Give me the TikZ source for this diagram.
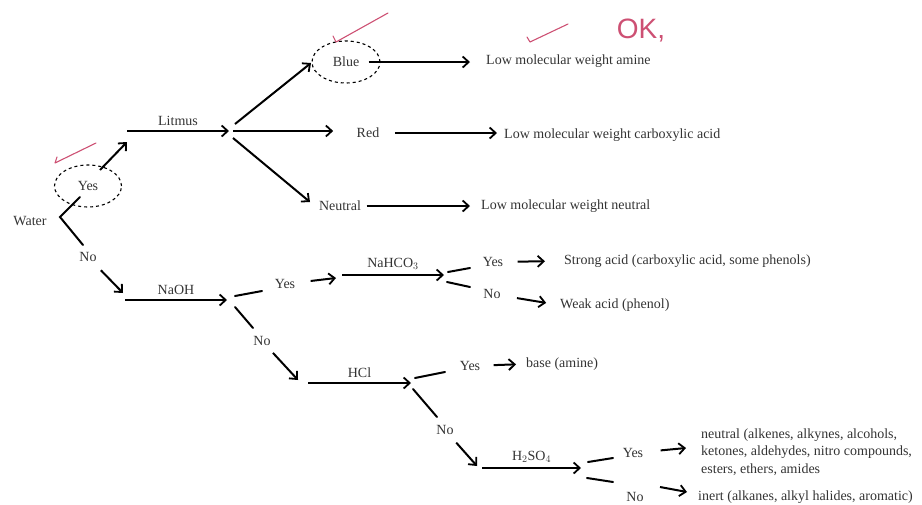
\documentclass[tikz,border=0pt]{standalone}
\usepackage{fontspec}
\setmainfont{Liberation Serif}
\newfontfamily\handfont{Liberation Sans}
\usetikzlibrary{arrows.meta,shapes.geometric}

\definecolor{inkred}{RGB}{205,80,115}

\tikzset{
  arr/.style={line width=2pt,-{Straight Barb[length=6pt,width=11pt,line width=1.8pt]}},
  fork/.style={line width=2pt,line cap=round},
  circ/.style={ellipse,draw,dashed,line width=1.1pt,inner sep=0pt},
  res/.style={anchor=west,inner sep=1pt},
  tick/.style={draw=inkred,line width=1.1pt,line cap=round,line join=round}
}

\begin{document}
\begin{tikzpicture}[x=1pt,y=-1pt,font=\fontsize{14}{17.5}\selectfont,text=black!80]
  \useasboundingbox (0,0) rectangle (922,504);

  % water test
  \node (water) at (30,221) {Water};
  \node[circ,minimum width=67pt,minimum height=42pt] (yes1) at (88,186) {Yes};
  \node (no1) at (88,257) {No};
  \coordinate (w0) at (80,197);
  \coordinate (w1) at (60,217);
  \coordinate (w2) at (83,245);
  \draw[fork] (w0) -- (w1) -- (w2);
  \coordinate (y1a) at (100,170);
  \coordinate (y1b) at (127,142);
  \draw[arr] (y1a) -- (y1b);
  \coordinate (n1b) at (123,293);
  \draw[arr,shorten <=7pt] (no1) -- (n1b);

  % litmus branch
  \coordinate (lita) at (127,131);
  \coordinate (lit) at (229,131);
  \draw[arr] (lita) -- (lit) node[midway,above=1pt] {Litmus};
  \node[circ,minimum width=68pt,minimum height=42pt] (blue) at (346,62) {Blue};
  \node (red) at (368,133) {Red};
  \node (neutral) at (340,206) {Neutral};
  \node[res] (amine) at (485,61) {Low molecular weight amine};
  \node[res] (carbox) at (503,135) {Low molecular weight carboxylic acid};
  \node[res] (neutres) at (480,206) {Low molecular weight neutral};
  \coordinate (bl) at (311,63);
  \draw[arr] (235,124) -- (bl);
  \draw[arr,shorten >=20pt] ([xshift=4pt]lit) -- (red.west |- lit);
  \coordinate (ne) at (310,202);
  \draw[arr] (233,138) -- (ne);
  \draw[arr,shorten <=-12pt,shorten >=15pt] (blue) -- (blue -| amine.west);
  \draw[arr,shorten <=12pt,shorten >=6pt] (red) -- (red -| carbox.west);
  \draw[arr,shorten <=2pt,shorten >=10pt] (neutral) -- (neutral -| neutres.west);

  % NaOH branch
  \coordinate (naa) at (125,300);
  \coordinate (na) at (227,300);
  \draw[arr] (naa) -- (na) node[midway,above=1pt] {NaOH};
  \draw[fork] (235,296) -- (262,291);
  \draw[fork] (235,307) -- (253,328);
  \node (yes2) at (285,284) {Yes};
  \node (no2) at (262,341) {No};
  \coordinate (y2b) at (336,278);
  \draw[arr,shorten <=12pt] (yes2) -- (y2b);
  \coordinate (bca) at (342,275);
  \coordinate (bc) at (444,275);
  \draw[arr] (bca) -- (bc) node[midway,above=1pt] {NaHCO$_3$};
  \draw[fork] (448,272) -- (470,268);
  \draw[fork] (447,282) -- (470,287);
  \node (yes3) at (493,262) {Yes};
  \node (no3) at (492,294) {No};
  \node[res] (strong) at (563,261) {Strong acid (carboxylic acid, some phenols)};
  \node[res] (weak) at (559,305) {Weak acid (phenol)};
  \draw[arr,shorten <=11pt,shorten >=18pt] (yes3) -- (strong.west);
  \draw[arr,shorten <=13pt,shorten >=13pt] (no3) -- (weak.west);

  % HCl branch
  \coordinate (n2b) at (298,380);
  \draw[arr,shorten <=5pt] (no2) -- (n2b);
  \coordinate (hca) at (308,383);
  \coordinate (hc) at (411,383);
  \draw[arr] (hca) -- (hc) node[midway,above=1pt] {HCl};
  \draw[fork] (415,378) -- (445,372);
  \draw[fork] (413,389) -- (437,417);
  \node (yes4) at (470,366) {Yes};
  \node (no4) at (445,430) {No};
  \node[res] (base) at (525,364) {base (amine)};
  \draw[arr,shorten <=10pt,shorten >=9pt] (yes4) -- (base.west);

  % H2SO4 branch
  \coordinate (n4b) at (477,466);
  \draw[arr,shorten <=6pt] (no4) -- (n4b);
  \coordinate (hsa) at (482,468);
  \coordinate (hs) at (581,468);
  \draw[arr] (hsa) -- (hs) node[midway,above=1pt] {H$_2$SO$_4$};
  \draw[fork] (588,462) -- (613,458);
  \draw[fork] (587,478) -- (613,482);
  \node (yes5) at (633,453) {Yes};
  \node (no5) at (635,497) {No};
  \node[res,align=left] (neutral2) at (700,452) {neutral (alkenes, alkynes, alcohols,\\ketones, aldehydes, nitro compounds,\\esters, ethers, amides};
  \node[res] (inert) at (697,497) {inert (alkanes, alkyl halides, aromatic)};
  \coordinate (y5b) at (686,448);
  \draw[arr,shorten <=14pt] (yes5) -- (y5b);
  \coordinate (n5a) at (660,487);
  \coordinate (n5b) at (687,492);
  \draw[arr] (n5a) -- (n5b);

  % marks in red ink
  \draw[tick] (57,157) -- (55,163) -- (96,143);
  \draw[tick] (333,36) -- (336,42) -- (388,13);
  \draw[tick] (527,37) -- (530,42) -- (568,24);
  \node[text=inkred,font=\handfont\fontsize{28}{28}\selectfont] (ok) at (641,31) {OK,};
\end{tikzpicture}
\end{document}
